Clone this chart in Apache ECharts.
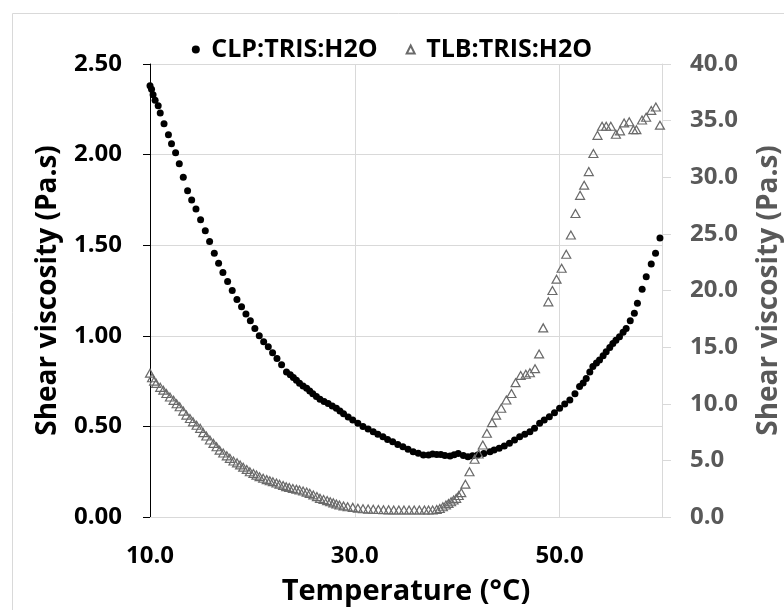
<!DOCTYPE html>
<html>
<head>
<meta charset="utf-8">
<script src="https://cdn.jsdelivr.net/npm/echarts@6/dist/echarts.min.js"></script>
<style>
  html, body { margin: 0; padding: 0; background: #fff; }
  #chart { width: 784px; height: 610px; }
</style>
</head>
<body>
<div id="chart"></div>
<script>
// CLP:TRIS:H2O, left axis (Pa.s)
let clpTemp = [10.0, 10.15, 10.3, 10.5, 10.8, 11.0, 11.37, 11.8, 12.1, 12.5, 12.86, 13.25, 13.67, 14.07, 14.49, 14.94,
    15.4, 15.82, 16.28, 16.7, 17.12, 17.58, 18.03, 18.49, 18.94, 19.37, 19.8, 20.24, 20.67, 21.1, 21.55, 21.97, 22.4,
    22.85, 23.33, 23.7, 24.0, 24.3, 24.6, 24.95, 25.3, 25.6, 25.9, 26.25, 26.6, 27.0, 27.4, 27.8, 28.2, 28.55, 28.9,
    29.35, 29.8, 30.3, 30.8, 31.3, 31.8, 32.25, 32.75, 33.2, 33.7, 34.2, 34.7, 35.2, 35.7, 36.2, 36.7, 37.2, 37.6, 38.0,
    38.4, 38.8, 39.3, 39.7, 40.1, 40.6, 41.05, 41.5, 42.0, 42.6, 43.2, 43.6, 44.1, 44.6, 45.1, 45.6, 46.1, 46.6, 47.1,
    47.55, 48.05, 48.5, 49.0, 49.5, 50.0, 50.5, 51.0, 51.5, 51.95, 52.3, 52.6, 52.95, 53.25, 53.6, 53.9, 54.25, 54.55,
    54.9, 55.2, 55.5, 55.85, 56.2, 56.5, 56.9, 57.3, 57.6, 58.06, 58.46, 58.95, 59.37, 59.8];
let clpVisc = [2.38, 2.36, 2.33, 2.30, 2.27, 2.23, 2.17, 2.11, 2.06, 2.01, 1.95, 1.875, 1.80, 1.75, 1.70, 1.64,
    1.58, 1.52, 1.455, 1.40, 1.35, 1.30, 1.25, 1.20, 1.16, 1.12, 1.083, 1.04, 1.00, 0.967, 0.94, 0.907, 0.875,
    0.84, 0.80, 0.785, 0.77, 0.755, 0.738, 0.723, 0.71, 0.695, 0.68, 0.665, 0.65, 0.638, 0.627, 0.613, 0.60, 0.585, 0.57,
    0.552, 0.535, 0.518, 0.50, 0.485, 0.47, 0.456, 0.443, 0.428, 0.415, 0.40, 0.388, 0.374, 0.36, 0.352, 0.342, 0.342, 0.348, 0.345,
    0.345, 0.34, 0.337, 0.343, 0.35, 0.34, 0.333, 0.338, 0.342, 0.35, 0.36, 0.37, 0.38, 0.392, 0.407, 0.425, 0.443, 0.456, 0.47,
    0.49, 0.517, 0.535, 0.553, 0.576, 0.60, 0.623, 0.646, 0.68, 0.72, 0.74, 0.765, 0.80, 0.83, 0.85, 0.866, 0.89, 0.912,
    0.935, 0.958, 0.975, 0.995, 1.02, 1.04, 1.083, 1.124, 1.18, 1.257, 1.326, 1.396, 1.455, 1.54];

// TLB:TRIS:H2O, right axis (Pa.s)
let tlbTemp = [10.0, 10.2, 10.4, 10.6, 11.0, 11.3, 11.6, 11.95, 12.3, 12.6, 12.9, 13.25, 13.55, 13.9, 14.2, 14.55, 14.9,
    15.2, 15.5, 15.85, 16.2, 16.5, 16.8, 17.15, 17.5, 17.8, 18.15, 18.5, 18.8, 19.1, 19.45, 19.75, 20.1, 20.4, 20.7,
    21.05, 21.4, 21.7, 22.0, 22.35, 22.65, 23.0, 23.3, 23.6, 23.95, 24.3, 24.6, 24.95, 25.3, 25.6, 25.95, 26.3, 26.6,
    26.95, 27.3, 27.6, 27.9, 28.2, 28.5, 28.9, 29.3, 29.8, 30.3, 30.8, 31.3, 31.8, 32.3, 32.8, 33.3, 33.8, 34.3, 34.8,
    35.3, 35.8, 36.3, 36.8, 37.2, 37.6, 38.0, 38.3, 38.6, 38.9, 39.15, 39.4, 39.65, 39.9, 40.15, 40.4, 40.8, 41.2, 41.7,
    42.1, 42.5, 42.9, 43.4, 43.8, 44.3, 44.8, 45.3, 45.7, 46.2, 46.7, 47.1, 47.6, 48.0, 48.4, 48.9, 49.3, 49.7, 50.2,
    50.65, 51.1, 51.55, 52.0, 52.4, 52.85, 53.3, 53.7, 54.15, 54.55, 55.0, 55.5, 55.9, 56.3, 56.8, 57.2, 57.5, 58.05,
    58.45, 58.95, 59.4, 59.8];
let tlbVisc = [12.7, 12.3, 12.0, 11.8, 11.45, 11.2, 10.9, 10.6, 10.3, 10.0, 9.74, 9.35, 9.0, 8.7, 8.4, 8.1, 7.83,
    7.45, 7.15, 6.8, 6.5, 6.2, 5.9, 5.65, 5.4, 5.18, 4.95, 4.78, 4.6, 4.4, 4.2, 4.0, 3.85, 3.7, 3.56,
    3.42, 3.3, 3.2, 3.12, 3.0, 2.9, 2.78, 2.68, 2.6, 2.52, 2.45, 2.38, 2.3, 2.2, 2.09, 1.95, 1.8, 1.65,
    1.55, 1.45, 1.35, 1.25, 1.15, 1.06, 0.98, 0.9, 0.85, 0.78, 0.73, 0.7, 0.68, 0.66, 0.64, 0.63, 0.62, 0.62, 0.62,
    0.62, 0.62, 0.62, 0.62, 0.62, 0.62, 0.66, 0.75, 0.9, 1.06, 1.2, 1.35, 1.5, 1.65, 1.9, 2.15, 2.9, 4.0, 5.1,
    5.56, 6.36, 7.4, 8.33, 9.0, 9.6, 10.33, 10.9, 11.86, 12.5, 12.6, 12.74, 13.1, 14.4, 16.7, 19.0, 20.0, 21.0, 21.96,
    23.2, 24.9, 26.8, 28.4, 29.3, 30.5, 32.1, 33.7, 34.5, 34.5, 34.5, 33.8, 34.1, 34.8, 34.9, 34.2, 34.2, 35.05,
    35.3, 35.9, 36.2, 34.6];

let seriesNames = ['CLP:TRIS:H2O', 'TLB:TRIS:H2O'];

let clpData = clpTemp.map((t, i) => [t, clpVisc[i]]);
let tlbData = tlbTemp.map((t, i) => [t, tlbVisc[i]]);

const font = '"Open Sans", "DejaVu Sans", sans-serif';

let option = {
    animation: false,
    backgroundColor: '#fff',
    textStyle: { fontFamily: font },
    graphic: [{
        type: 'rect',
        shape: { x: 12.5, y: 13.5, width: 800, height: 620 },
        style: { fill: 'none', stroke: '#d9d9d9', lineWidth: 1 },
        silent: true
    }],
    legend: {
        top: 32,
        left: 'center',
        itemWidth: 8,
        itemHeight: 8,
        itemGap: 28,
        formatter: name => ' ' + name,
        textStyle: { fontSize: 25, fontWeight: 'bold', color: '#000', fontFamily: font },
        data: [
            { name: seriesNames[0], icon: 'circle' },
            { name: seriesNames[1], icon: 'triangle' }
        ]
    },
    grid: { left: 150, right: 122, top: 64, bottom: 93, containLabel: false, outerBoundsMode: 'none' },
    xAxis: {
        type: 'value',
        min: 10,
        max: 60,
        interval: 20,
        name: 'Temperature (°C)',
        nameLocation: 'middle',
        nameGap: 60,
        nameTextStyle: { fontSize: 29, fontWeight: 'bold', color: '#000', fontFamily: font },
        axisLine: { lineStyle: { color: '#d9d9d9' } },
        axisTick: { show: false },
        splitLine: { show: true, lineStyle: { color: '#d9d9d9' } },
        axisLabel: {
            fontSize: 24, fontWeight: 'bold', color: '#000', margin: 27,
            showMaxLabel: false,
            formatter: v => v.toFixed(1)
        }
    },
    yAxis: [{
        type: 'value',
        min: 0,
        max: 2.5,
        interval: 0.5,
        position: 'left',
        name: 'Shear viscosity (Pa.s)',
        nameLocation: 'middle',
        nameRotate: 90,
        nameGap: 88,
        nameTextStyle: { fontSize: 28, fontWeight: 'bold', color: '#000', fontFamily: font },
        axisLine: { show: true, lineStyle: { color: '#000' } },
        axisTick: { show: true, length: 7, lineStyle: { color: '#000' } },
        splitLine: { show: true, lineStyle: { color: '#d9d9d9' } },
        axisLabel: {
            fontSize: 24, fontWeight: 'bold', color: '#000', margin: 28,
            formatter: v => v.toFixed(2)
        }
    }, {
        type: 'value',
        min: 0,
        max: 40,
        interval: 5,
        position: 'right',
        name: 'Shear viscosity (Pa.s)',
        nameLocation: 'middle',
        nameRotate: 90,
        nameGap: 93,
        nameTextStyle: { fontSize: 28, fontWeight: 'bold', color: '#595959', fontFamily: font },
        axisLine: { show: true, lineStyle: { color: '#d9d9d9' } },
        axisTick: { show: true, length: 9, lineStyle: { color: '#d9d9d9' } },
        splitLine: { show: false },
        axisLabel: {
            fontSize: 24, fontWeight: 'bold', color: '#595959', margin: 28,
            formatter: v => v.toFixed(1)
        }
    }],
    series: [
        {
            name: seriesNames[0],
            type: 'scatter',
            yAxisIndex: 0,
            symbol: 'circle',
            symbolSize: 7,
            itemStyle: { color: '#000', opacity: 1 },
            data: clpData
        },
        {
            name: seriesNames[1],
            type: 'scatter',
            yAxisIndex: 1,
            symbol: 'triangle',
            symbolSize: [9, 8],
            itemStyle: { color: 'rgba(255,255,255,0)', borderColor: '#6a6a6a', borderWidth: 1.2, opacity: 1 },
            data: tlbData
        }
    ]
};

let chart = echarts.init(document.getElementById('chart'));
chart.setOption(option);
</script>
</body>
</html>
